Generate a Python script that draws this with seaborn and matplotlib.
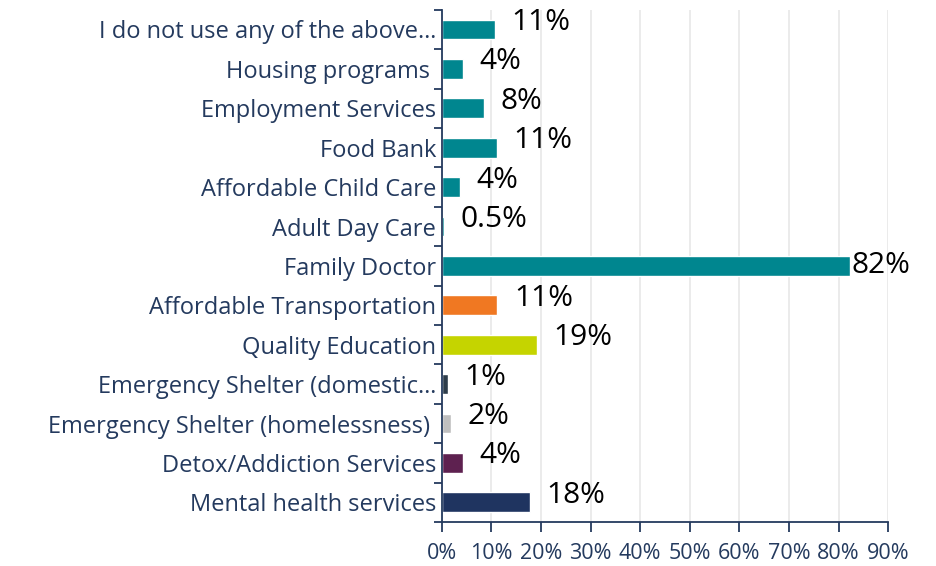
import matplotlib
matplotlib.use('Agg')
import matplotlib.pyplot as plt
import matplotlib.ticker as mticker
import seaborn as sns
import pandas as pd
import numpy as np

sns.set_theme(style='white')
plt.rcParams['font.family'] = ['Open Sans', 'DejaVu Sans']

# ── data ───────────────────────────────────────────────────────────────────────
services = [
    'I do not use any of the above\u2026', 'Housing programs ', 'Employment Services',
    'Food Bank', 'Affordable Child Care', 'Adult Day Care', 'Family Doctor',
    'Affordable Transportation', 'Quality Education', 'Emergency Shelter (domestic\u2026',
    'Emergency Shelter (homelessness) ', 'Detox/Addiction Services', 'Mental health services',
]
pct = [10.7, 4.2, 8.5, 11.1, 3.6, 0.5, 82.3, 11.2, 19.2, 1.2, 1.8, 4.2, 17.7]
labels = ['11%', '4%', '8%', '11%', '4%', '0.5%', '82%',
          '11%', '19%', '1%', '2%', '4%', '18%']
colors = ['#00868F'] * 7 + ['#F07822', '#C5D400', '#2E3D4B', '#BFBFBF', '#5E2150', '#1F3460']

df = pd.DataFrame({'service': services, 'pct': pct})
NAVY = '#243A5E'

fig = plt.figure(figsize=(9.36, 5.66), dpi=100)
ax = fig.add_axes([0.472, 0.0777, 0.477, 0.905])

sns.barplot(data=df, x='pct', y='service', hue='service', palette=colors,
            order=services, hue_order=services, legend=False, width=0.5,
            saturation=1, ax=ax)

ax.set_xlim(0, 90)
ax.set_ylim(12.5, -0.5)
ax.xaxis.set_major_locator(mticker.MultipleLocator(10))
ax.xaxis.set_major_formatter(mticker.FuncFormatter(lambda v, p: f'{v:.0f}%'))
ax.grid(axis='x', color='#E8E8E8', linewidth=1.2)
ax.set_axisbelow(True)
ax.set_xlabel('')
ax.set_ylabel('')

for side in ['top', 'right']:
    ax.spines[side].set_visible(False)
for side in ['left', 'bottom']:
    ax.spines[side].set_color(NAVY)
    ax.spines[side].set_linewidth(1.3)

ax.tick_params(axis='x', which='major', direction='out', length=7, width=1.3,
               color=NAVY, labelcolor=NAVY, labelsize=15.5, bottom=True, pad=8)
# y ticks sit on category boundaries (Excel style)
ax.set_yticks(np.arange(-0.5, 13, 1), minor=True)
ax.tick_params(axis='y', which='minor', direction='out', length=6, width=1.3,
               color=NAVY, left=True)
ax.tick_params(axis='y', which='major', length=0, labelcolor=NAVY,
               labelsize=17, pad=4)

for i, (v, lab) in enumerate(zip(pct, labels)):
    if v == max(pct):
        ax.annotate(lab, (v, i), xytext=(1, 0), textcoords='offset points',
                    ha='left', va='center', fontsize=21.5, color='black')
    else:
        ax.annotate(lab, (v, i), xytext=(12, 5), textcoords='offset points',
                    ha='left', va='center', fontsize=21.5, color='black')

plt.savefig('out.png', dpi=100)
plt.close()
